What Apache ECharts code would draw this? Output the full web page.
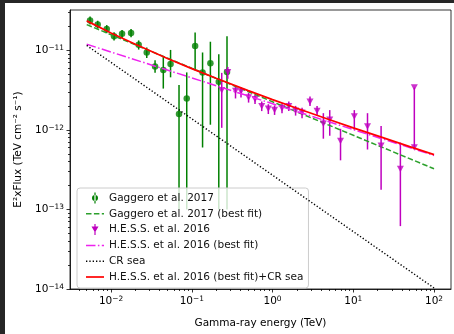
<!DOCTYPE html>
<html><head><meta charset="utf-8">
<script src="https://cdn.jsdelivr.net/npm/echarts@6/dist/echarts.min.js"></script>
<style>
html,body{margin:0;padding:0;background:#262626;width:454px;height:334px;overflow:hidden}
#c{position:absolute;left:5px;top:3px;width:449px;height:331px;background:#fff}
</style></head><body><div id="c"></div>
<script>
// ---- data (energies in TeV, E^2 x flux in TeV cm^-2 s^-1) ----
const gaggeroE  = [0.00550,0.00684,0.00885,0.0109,0.0137,0.0177,0.0220,0.0277,0.0351,0.0444,0.0546,0.0695,0.0866,0.110,0.136,0.170,0.216,0.273];
const gaggeroF  = [2.37e-11,2.10e-11,1.85e-11,1.50e-11,1.61e-11,1.65e-11,1.17e-11,9.38e-12,6.25e-12,5.66e-12,6.72e-12,1.58e-12,2.48e-12,1.13e-11,5.27e-12,6.85e-12,4.03e-12,5.35e-12];
const gaggeroLo = [2.11e-11,1.87e-11,1.64e-11,1.33e-11,1.43e-11,1.46e-11,1.02e-11,8.0e-12,5.2e-12,3.30e-12,4.57e-12,1e-13,1e-13,5.55e-12,6.0e-13,1.16e-12,1e-13,1e-13];
const gaggeroHi = [2.65e-11,2.35e-11,2.07e-11,1.68e-11,1.80e-11,1.85e-11,1.33e-11,1.08e-11,7.5e-12,8.31e-12,1.01e-11,3.65e-12,5.27e-12,1.67e-11,9.38e-12,1.28e-11,8.93e-12,1.50e-11];

const hessE  = [0.235,0.279,0.348,0.407,0.505,0.607,0.735,0.887,1.06,1.31,1.59,1.93,2.32,2.91,3.56,4.26,5.11,6.95,10.3,15.0,22.1,38.3,57.0,57.0];
const hessF  = [3.15e-12,5.31e-12,3.07e-12,3.03e-12,2.55e-12,2.43e-12,1.98e-12,1.84e-12,1.78e-12,1.87e-12,1.98e-12,1.74e-12,1.64e-12,2.26e-12,1.72e-12,1.19e-12,1.34e-12,7.25e-13,1.47e-12,1.10e-12,6.29e-13,3.21e-13,6.0e-13,3.40e-12];
const hessLo = [1.06e-12,4.39e-12,2.48e-12,2.55e-12,2.2e-12,2.12e-12,1.72e-12,1.58e-12,1.54e-12,1.62e-12,1.72e-12,1.51e-12,1.40e-12,2.0e-12,1.5e-12,7.74e-13,8.43e-13,4.14e-13,1.0e-12,5.66e-13,1.77e-13,6.17e-14,6.0e-13,3.40e-12];
const hessHi = [5.20e-12,6.17e-12,3.49e-12,3.45e-12,2.9e-12,2.77e-12,2.27e-12,2.10e-12,2.03e-12,2.15e-12,2.27e-12,2.0e-12,1.90e-12,2.62e-12,2.0e-12,1.62e-12,1.77e-12,1.03e-12,1.77e-12,1.62e-12,1.12e-12,6.91e-13,3.40e-12,3.40e-12];

const gaggeroFitE = [0.005, 100];
const gaggeroFitF = [2.10e-11, 3.24e-13];
const hessFitE = [0.005, 100];
const hessFitF = [1.19e-11, 4.77e-13];
const crSeaE = [0.005, 100];
const crSeaF = [1.15e-11, 1.03e-14];
const sumE = [0.005,0.01,0.02,0.05,0.1,0.2,0.5,1,2,5,10,20,50,100];
const sumF = [2.34e-11,1.65e-11,1.19e-11,7.88e-12,5.88e-12,4.44e-12,3.11e-12,2.40e-12,1.87e-12,1.35e-12,1.06e-12,8.39e-13,6.16e-13,4.88e-13];

const xMajor = [-2,-1,0,1,2];          // log10 tick positions
const yMajor = [-14,-13,-12,-11];
const XMIN = -2.508, XMAX = 2.21, YMIN = -14, YMAX = -10.494;

// ---- helpers ----
const L = Math.log10;
function minorTicks(a, b){ const r=[]; for(let n=Math.floor(a);n<=Math.ceil(b);n++){ for(let k=2;k<=9;k++){ const v=n+L(k); if(v>a&&v<b) r.push(v);} } return r; }
const pts = (E,F) => E.map((e,i)=>[L(e), L(F[i])]);
const bars = (E,lo,hi) => E.map((e,i)=>[L(e), L(lo[i]), L(hi[i])]);
const sup = v => '{b|10}{s|' + (v<0?'\u2212':'') + Math.abs(v) + '}';
const FONT = 'DejaVu Sans';
const FS = 10.5;
const rich = { b:{fontSize:FS,color:'#000',fontFamily:FONT}, s:{fontSize:7.4,color:'#000',fontFamily:FONT,verticalAlign:'top'} };
const axLine = {show:true,onZero:false,lineStyle:{color:'#000',width:0.8}};
const tickStyle = {color:'#000',width:0.8};

function errRender(color){
  return function(params, api){
    const p1 = api.coord([api.value(0), api.value(1)]);
    const p2 = api.coord([api.value(0), api.value(2)]);
    return {type:'line', shape:{x1:p1[0],y1:p1[1],x2:p2[0],y2:p2[1]}, style:{stroke:color,lineWidth:1.5}};
  };
}

const G='#008000', GL='#2ca02c', M='#bf00bf', ML='#ee22ee', K='#000', R='#ff0000';
// legend handle glyphs
const iconG = 'path://M2.4,0h1.2v11h-1.2z M0,5.5a3,3 0 1,0 6,0a3,3 0 1,0 -6,0z';
const iconM = 'path://M2.9,0h1.2v11h-1.2z M0,2.5L7,2.5L3.5,8.5z';
const iconDash = 'path://M0,0h5.5v1.5h-5.5z M7.9,0h5.5v1.5h-5.5z M15.8,0h2.2v1.5h-2.2z';
const iconDashDot = 'path://M0,0h9.5v1.5h-9.5z M11.9,0h1.5v1.5h-1.5z M15.8,0h2.2v1.5h-2.2z';
const iconDot = 'path://M0,0h1.3v1.4h-1.3z M3.3,0h1.3v1.4h-1.3z M6.6,0h1.3v1.4h-1.3z M9.9,0h1.3v1.4h-1.3z M13.2,0h1.3v1.4h-1.3z M16.5,0h1.3v1.4h-1.3z';
const iconSolid = 'path://M0,0h18v1.7h-18z';
const item = (name, icon, color) => ({name:name, icon:icon, itemStyle:{color:color, borderWidth:0, opacity:1}});

const chart = echarts.init(document.getElementById('c'), null, {renderer:'canvas'});
chart.setOption({
  animation:false,
  backgroundColor:'#fff',
  grid:{left:65,top:7,right:3,bottom:40,show:true,borderColor:'#000',borderWidth:0.8,containLabel:false},
  xAxis:[
    {type:'value',min:XMIN,max:XMAX,position:'bottom',axisLine:axLine,
     axisTick:{show:true,customValues:xMajor,length:3.5,lineStyle:tickStyle},
     axisLabel:{customValues:xMajor,formatter:sup,rich:rich,margin:7},
     splitLine:{show:false},
     name:'Gamma-ray energy (TeV)',nameLocation:'middle',nameGap:29,
     nameTextStyle:{fontSize:FS,color:'#000',fontFamily:FONT}},
    {type:'value',min:XMIN,max:XMAX,position:'bottom',axisLine:{show:false,onZero:false},
     axisTick:{show:true,customValues:minorTicks(XMIN,XMAX),length:2,lineStyle:tickStyle},
     axisLabel:{show:false},splitLine:{show:false}}
  ],
  yAxis:[
    {type:'value',min:YMIN,max:YMAX,position:'left',axisLine:axLine,
     axisTick:{show:true,customValues:yMajor,length:3.5,lineStyle:tickStyle},
     axisLabel:{customValues:yMajor,formatter:sup,rich:rich,margin:6},
     splitLine:{show:false},
     name:'E\u00b2xFlux (TeV cm\u207b\u00b2 s\u207b\u00b9)',nameLocation:'middle',nameGap:42,
     nameTextStyle:{fontSize:FS,color:'#000',fontFamily:FONT}},
    {type:'value',min:YMIN,max:YMAX,position:'left',axisLine:{show:false,onZero:false},
     axisTick:{show:true,customValues:minorTicks(YMIN,YMAX),length:2,lineStyle:tickStyle},
     axisLabel:{show:false},splitLine:{show:false}}
  ],
  legend:{
    left:72,top:185,orient:'vertical',
    itemWidth:18,itemHeight:11,itemGap:3.8,
    padding:[4,5,5,9],
    backgroundColor:'rgba(255,255,255,0.8)',borderColor:'#cccccc',borderWidth:1,borderRadius:3,
    textStyle:{fontSize:FS,color:'#111',fontFamily:FONT,lineHeight:12},
    data:[
      item('Gaggero et al. 2017', iconG, G),
      item('Gaggero et al. 2017 (best fit)', iconDash, GL),
      item('H.E.S.S. et al. 2016', iconM, M),
      item('H.E.S.S. et al. 2016 (best fit)', iconDashDot, ML),
      item('CR sea', iconDot, K),
      item('H.E.S.S. et al. 2016 (best fit)+CR sea', iconSolid, R)
    ]
  },
  series:[
    {type:'custom',name:'gerr',renderItem:errRender(G),data:bars(gaggeroE,gaggeroLo,gaggeroHi),encode:{x:0,y:[1,2]},clip:true,z:2},
    {type:'scatter',name:'Gaggero et al. 2017',data:pts(gaggeroE,gaggeroF),symbol:'circle',symbolSize:6.5,itemStyle:{color:G},z:2},
    {type:'line',name:'Gaggero et al. 2017 (best fit)',data:pts(gaggeroFitE,gaggeroFitF),symbol:'none',showSymbol:false,lineStyle:{color:GL,width:1.5,type:[5.5,2.4]},itemStyle:{color:GL},z:3},
    {type:'custom',name:'herr',renderItem:errRender(M),data:bars(hessE,hessLo,hessHi),encode:{x:0,y:[1,2]},clip:true,z:3},
    {type:'scatter',name:'H.E.S.S. et al. 2016',data:pts(hessE,hessF),symbol:'triangle',symbolRotate:180,symbolSize:[7,6.5],itemStyle:{color:M},z:3},
    {type:'line',name:'H.E.S.S. et al. 2016 (best fit)',data:pts(hessFitE,hessFitF),symbol:'none',showSymbol:false,lineStyle:{color:ML,width:1.5,type:[9.5,2.4,1.5,2.4]},itemStyle:{color:ML},z:4},
    {type:'line',name:'CR sea',data:pts(crSeaE,crSeaF),symbol:'none',showSymbol:false,lineStyle:{color:K,width:1.4,type:[1.3,2.0]},itemStyle:{color:K},z:4},
    {type:'line',name:'H.E.S.S. et al. 2016 (best fit)+CR sea',data:pts(sumE,sumF),symbol:'none',showSymbol:false,lineStyle:{color:R,width:1.7},itemStyle:{color:R},z:5}
  ]
});
</script></body></html>
